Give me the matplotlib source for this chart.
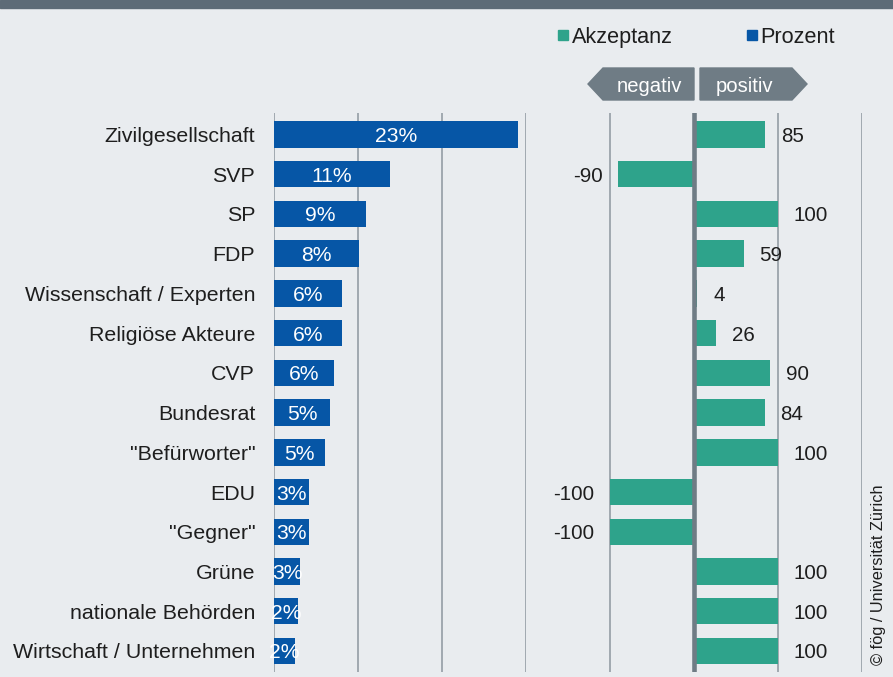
import matplotlib.pyplot as plt
from matplotlib.patches import Polygon, Rectangle

plt.rcParams['font.family'] = ['Liberation Sans', 'DejaVu Sans']

categories = ["Zivilgesellschaft", "SVP", "SP", "FDP", "Wissenschaft / Experten",
              "Religiöse Akteure", "CVP", "Bundesrat", '"Befürworter"', "EDU",
              '"Gegner"', "Grüne", "nationale Behörden", "Wirtschaft / Unternehmen"]
prozent = [23.2, 11.0, 8.8, 8.1, 6.45, 6.45, 5.75, 5.35, 4.85, 3.35, 3.35, 2.5, 2.25, 2.0]
prozent_labels = ["23%", "11%", "9%", "8%", "6%", "6%", "6%", "5%", "5%",
                  "3%", "3%", "3%", "2%", "2%"]
akzeptanz = [85, -90, 100, 59, 4, 26, 90, 84, 100, -100, -100, 100, 100, 100]

W, H = 893, 677
BG = '#e9ecef'
BLUE = '#0656a6'
TEAL = '#2ea38b'
GRID = '#8d979f'
DARK = '#6f7c85'
TXT = '#1e1e1e'


def fx(px):
    return px / W


def fy(py):
    return 1 - py / H


fig = plt.figure(figsize=(W / 100, H / 100), dpi=100, facecolor=BG)

top, bottom = 113, 672
ax1 = fig.add_axes([fx(274), fy(bottom), fx(526) - fx(274), fy(top) - fy(bottom)])
ax2 = fig.add_axes([fx(526), fy(bottom), fx(862) - fx(526), fy(top) - fy(bottom)])

rows = list(range(len(categories)))
ylim = (13.53, -0.54)

# linke Seite: Prozent
ax1.barh(rows, prozent, height=0.667, color=BLUE, zorder=2)
for y, v, lab in zip(rows, prozent, prozent_labels):
    ax1.text(v / 2, y, lab, ha='center', va='center_baseline', color='white',
             fontsize=15.2, zorder=3)
for g in [0, 8, 16, 24]:
    ax1.axvline(g, color=GRID, lw=1.1, zorder=1)
ax1.set_xlim(0, 24)
ax1.set_ylim(*ylim)
ax1.set_yticks(rows)
ax1.set_yticklabels(categories, fontsize=15.4, color=TXT)
ax1.tick_params(axis='y', length=0, pad=13.5)
ax1.set_xticks([])

# rechte Seite: Akzeptanz
ax2.barh(rows, akzeptanz, height=0.667, color=TEAL, zorder=2)
for y, v in zip(rows, akzeptanz):
    if v >= 0:
        ax2.annotate(str(v), (v, y), xytext=(11.5, 0), textcoords='offset points',
                     ha='left', va='center_baseline', fontsize=14.8, color=TXT)
    else:
        ax2.annotate(str(v), (v, y), xytext=(-11.5, 0), textcoords='offset points',
                     ha='right', va='center_baseline', fontsize=14.8, color=TXT)
for g in [-100, 100, 200]:
    ax2.axvline(g, color=GRID, lw=1.1, zorder=1)
ax2.axvline(0, color=DARK, lw=3.3, zorder=3)
ax2.set_xlim(-200, 200)
ax2.set_ylim(*ylim)
ax2.set_xticks([])
ax2.set_yticks([])

for ax in (ax1, ax2):
    ax.set_facecolor('none')
    for s in ax.spines.values():
        s.set_visible(False)

# Kopfbalken
fig.patches.append(Rectangle((0, fy(8)), 1, 8 / H, transform=fig.transFigure,
                             color='#5d6b77', zorder=0))

# Legende
fig.patches.append(Rectangle((fx(558), fy(40)), 10 / W, 10 / H, transform=fig.transFigure,
                             color=TEAL))
fig.text(fx(572), fy(35), "Akzeptanz", fontsize=15.6, color=TXT,
         va='center_baseline', ha='left')
fig.patches.append(Rectangle((fx(747), fy(40)), 10 / W, 10 / H, transform=fig.transFigure,
                             color=BLUE))
fig.text(fx(760), fy(35), "Prozent", fontsize=15.6, color=TXT,
         va='center_baseline', ha='left')

# negativ / positiv Pfeile
neg = [(588, 84), (603, 68), (694, 68), (694, 100), (603, 100)]
pos = [(700, 68), (792, 68), (807, 84), (792, 100), (700, 100)]
for pts in (neg, pos):
    fig.patches.append(Polygon([(fx(a), fy(b)) for a, b in pts], closed=True,
                               transform=fig.transFigure, color=DARK))
fig.text(fx(649), fy(84), "negativ", fontsize=14.6, color='white',
         ha='center', va='center_baseline')
fig.text(fx(744), fy(84), "positiv", fontsize=14.6, color='white',
         ha='center', va='center_baseline')

fig.text(fx(878), fy(575), "© fög / Universität Zürich", fontsize=11.8, color=TXT,
         rotation=90, ha='center', va='center')

fig.savefig('out.png', dpi=100, facecolor=BG)
